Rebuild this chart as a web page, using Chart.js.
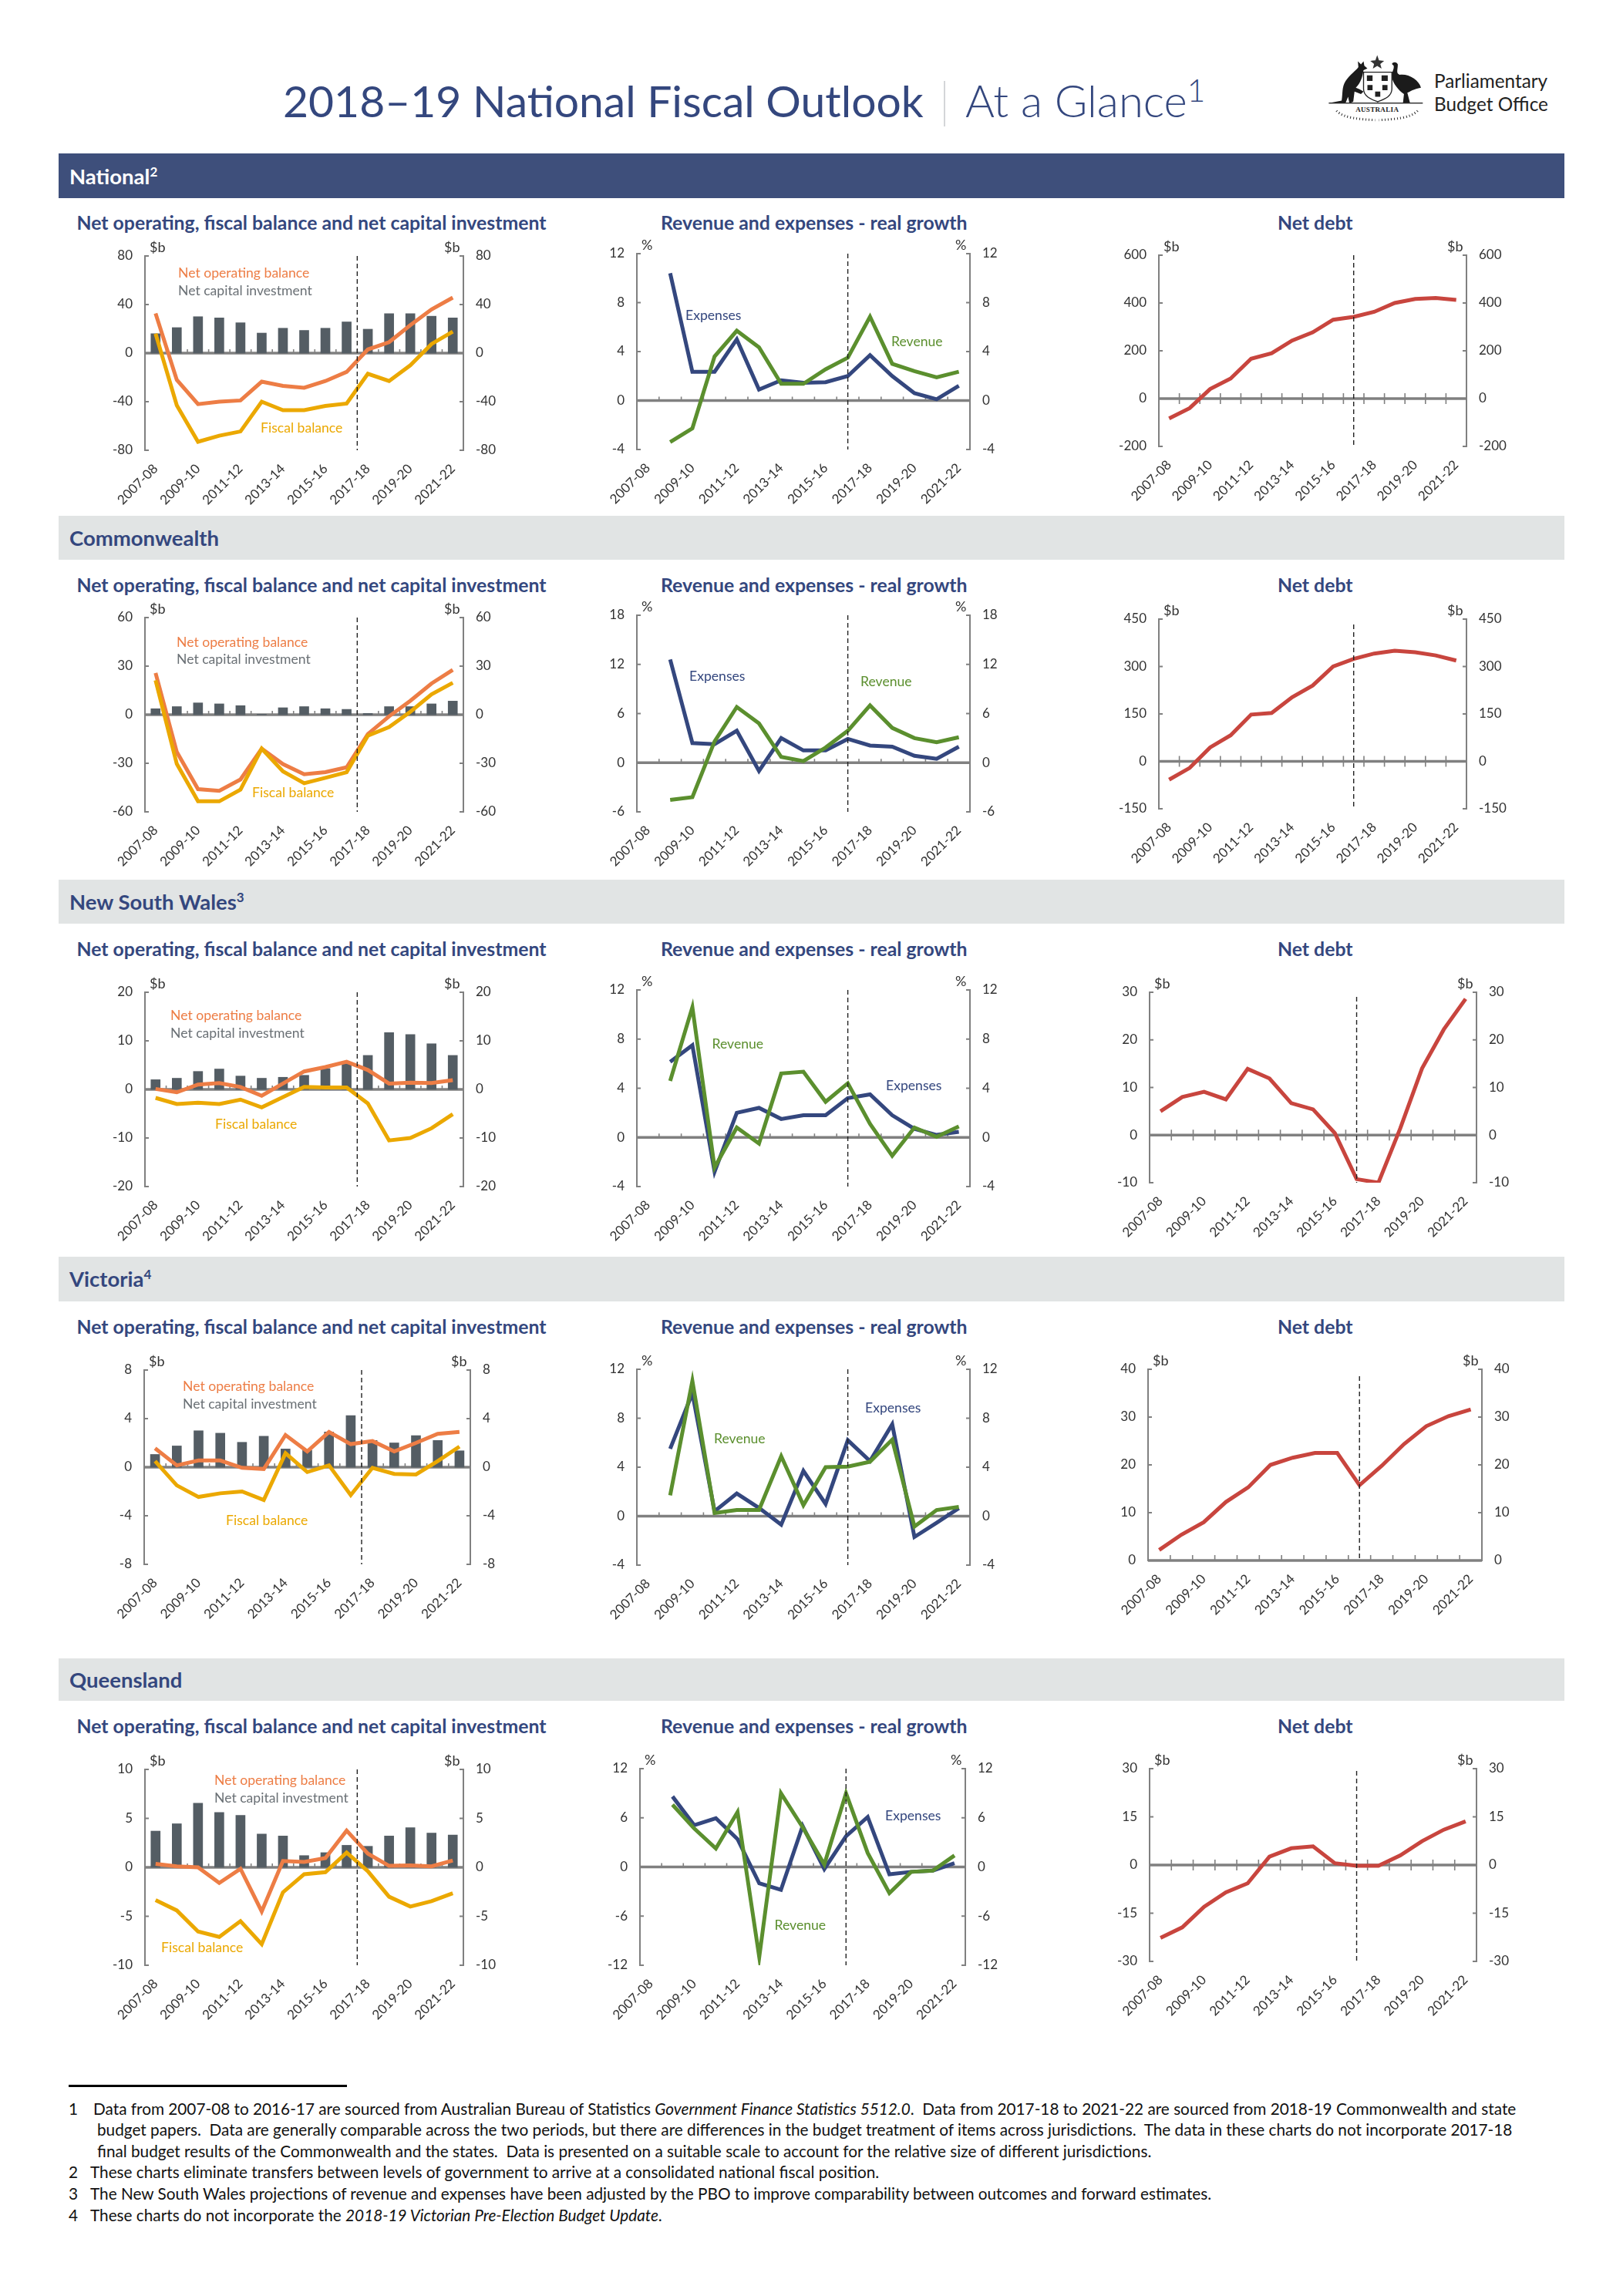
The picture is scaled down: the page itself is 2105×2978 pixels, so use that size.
<!DOCTYPE html>
<html>
<head>
<meta charset="utf-8">
<title>2018-19 National Fiscal Outlook</title>
<script src="https://cdn.jsdelivr.net/npm/chart.js@4/dist/chart.umd.min.js"></script>
<style>
html, body { margin: 0; padding: 0; background: #fff; }
#page { position: relative; width: 2105px; height: 2978px; overflow: hidden; font-family: Lato, sans-serif; color: #34477e; }
#page > div, #page > canvas, #page > svg { position: absolute; }
.t { white-space: nowrap; transform: translateY(-50%); line-height: 1; }
.band { left: 76px; width: 1953px; }
.bandtext { left: 90px; font-size: 27.5px; font-weight: 700; }
.sub { font-size: 24.8px; font-weight: 700; }
.foot { font-size: 20.75px; color: #111; }
sup { font-size: 62%; line-height: 0; }
canvas { display: block; }
</style>
</head>
<body>
<div id="page">
  <div class="t" style="left:367px;top:130px;font-size:57px;">2018–19 National Fiscal Outlook</div>
  <div style="left:1224px;top:105px;width:2px;height:59px;background:#d4d6d8;"></div>
  <div class="t" style="left:1252px;top:130px;font-size:58px;font-weight:300;">At a Glance<sup style="font-size:70%;">1</sup></div>
  <svg style="left:1700px;top:50px;" width="147" height="114" viewBox="0 0 440 340">
    <path fill="#1b1b1b" d="M70 250 L120 240 C125 210 120 190 135 165 C150 140 175 125 185 110 L183 88 L195 100 L205 88 L208 105 L220 115 L205 122 C200 150 195 170 175 190 C190 195 205 205 205 205 L195 215 L170 205 L165 245 L150 250 L145 225 L135 250 Z"/>
    <path fill="#1b1b1b" d="M315 98 C320 88 335 90 338 100 C338 120 330 135 345 140 C380 135 420 160 428 190 C400 195 385 205 375 210 L385 248 L358 250 L362 215 C340 200 320 175 315 150 C312 130 325 120 322 105 Z"/>
    <path fill="#fff" stroke="#222" stroke-width="4" d="M205 130 L315 130 L315 195 C315 225 285 235 260 245 C235 235 205 225 205 195 Z"/>
    <path fill="#222" d="M218 142h22v22h-22z M275 142h24v22h-24z M220 180h20v20h-20z M278 180h20v20h-20z M250 205h20v20h-20z"/>
    <path fill="#333" d="M258 64 L265 84 L285 86 L270 98 L275 116 L258 106 L241 116 L246 98 L231 86 L251 84 Z"/>
    <rect x="70" y="248" width="365" height="4" fill="#222"/>
    <text x="258" y="283" text-anchor="middle" font-family="Liberation Serif" font-weight="700" font-size="27" fill="#222" letter-spacing="1">AUSTRALIA</text>
    <path fill="none" stroke="#333" stroke-width="9" stroke-dasharray="3 9" d="M100 280 C130 310 190 312 250 316 M415 280 C385 310 325 312 265 316"/>
  </svg>
  <div class="t" style="left:1860px;top:105px;font-size:24.3px;color:#222;">Parliamentary</div>
  <div class="t" style="left:1860px;top:135px;font-size:24.3px;color:#222;">Budget Office</div>

  <div class="band" style="top:199px;height:58px;background:#3e4f7b;"></div>
  <div class="t bandtext" style="top:228.5px;color:#fff;">National<sup>2</sup></div>
  <div class="band" style="top:669px;height:57px;background:#e1e4e4;"></div>
  <div class="t bandtext" style="top:698px;">Commonwealth</div>
  <div class="band" style="top:1141px;height:57px;background:#e1e4e4;"></div>
  <div class="t bandtext" style="top:1170px;">New South Wales<sup>3</sup></div>
  <div class="band" style="top:1630px;height:58px;background:#e1e4e4;"></div>
  <div class="t bandtext" style="top:1659px;">Victoria<sup>4</sup></div>
  <div class="band" style="top:2151px;height:55px;background:#e1e4e4;"></div>
  <div class="t bandtext" style="top:2179px;">Queensland</div>

  <div style="left:89px;top:2704px;width:361px;height:2.5px;background:#000;"></div>
  <div class="t foot" style="left:89px;top:2735px;">1</div>
  <div class="t foot" style="left:121px;top:2735px;">Data from 2007-08 to 2016-17 are sourced from Australian Bureau of Statistics <i>Government Finance Statistics 5512.0</i>.&nbsp; Data from 2017-18 to 2021-22 are sourced from 2018-19 Commonwealth and state</div>
  <div class="t foot" style="left:126px;top:2762px;">budget papers.&nbsp; Data are generally comparable across the two periods, but there are differences in the budget treatment of items across jurisdictions.&nbsp; The data in these charts do not incorporate 2017-18</div>
  <div class="t foot" style="left:126px;top:2790px;">final budget results of the Commonwealth and the states.&nbsp; Data is presented on a suitable scale to account for the relative size of different jurisdictions.</div>
  <div class="t foot" style="left:89px;top:2817px;">2</div>
  <div class="t foot" style="left:117px;top:2817px;">These charts eliminate transfers between levels of government to arrive at a consolidated national fiscal position.</div>
  <div class="t foot" style="left:89px;top:2845px;">3</div>
  <div class="t foot" style="left:117px;top:2845px;">The New South Wales projections of revenue and expenses have been adjusted by the PBO to improve comparability between outcomes and forward estimates.</div>
  <div class="t foot" style="left:89px;top:2873px;">4</div>
  <div class="t foot" style="left:117px;top:2873px;">These charts do not incorporate the <i>2018-19 Victorian Pre-Election Budget Update</i>.</div>
</div>
<script>
const years = ['2007-08','2008-09','2009-10','2010-11','2011-12','2012-13','2013-14','2014-15','2015-16','2016-17','2017-18','2018-19','2019-20','2020-21','2021-22'];

// National
const natCapital = [16, 21, 30, 29, 25, 16.5, 20.5, 18.7, 20.5, 25.7, 19.7, 32.5, 32.5, 30.4, 29];
const natOperating = [32.7, -22, -42, -40, -39, -23.5, -27, -28.5, -23, -15.5, 3, 9, 23, 36, 45.7];
const natFiscal = [16, -43, -73, -68, -64.5, -40, -47, -47, -43.5, -41.5, -17, -23, -10, 7.5, 17.7];
const natExpenses = [null, 10.4, 2.35, 2.35, 5, 0.9, 1.65, 1.45, 1.5, 2, 3.7, 2, 0.6, 0.1, 1.2];
const natRevenue = [null, -3.4, -2.27, 3.6, 5.7, 4.35, 1.37, 1.37, 2.55, 3.5, 6.85, 3, 2.4, 1.9, 2.35];
const natDebt = [-83, -40, 40, 84, 167, 190, 243, 277, 330, 342, 363, 400, 417, 421, 413];

// Commonwealth
const cthCapital = [3.7, 5, 7.3, 6.7, 5.6, 0.3, 4.3, 5, 3.7, 3.3, 0.8, 5, 5, 6.7, 8.4];
const cthOperating = [25.8, -23, -46, -47, -40, -21, -30.5, -36.8, -35.5, -32.5, -12, -1, 8.6, 19.3, 27.7];
const cthFiscal = [21.3, -30.4, -53.5, -53.5, -46.3, -21, -35, -42.3, -39, -35.5, -13, -7.6, 1.8, 12.6, 19.7];
const cthExpenses = [null, 12.6, 2.4, 2.26, 3.9, -1, 3, 1.5, 1.5, 2.9, 2.1, 1.95, 0.85, 0.47, 1.95];
const cthRevenue = [null, -4.55, -4.2, 2.6, 6.8, 4.8, 0.7, 0.2, 1.85, 3.9, 7, 4.25, 3, 2.5, 3.1];
const cthDebt = [-58, -21, 44, 82.5, 148, 153, 203, 240, 300, 324, 341, 350, 345, 335, 319];

// New South Wales
const nswCapital = [2, 2.3, 3.7, 4.2, 2.75, 2.3, 2.5, 2.9, 4.3, 5.3, 7, 11.7, 11.3, 9.4, 7];
const nswOperating = [0.1, -0.6, 1, 1.3, 0.5, -1.3, 1.2, 3.7, 4.6, 5.7, 4, 1.2, 1.4, 1.3, 1.9];
const nswFiscal = [-1.75, -3, -2.75, -3, -2.1, -3.7, -1.6, 0.5, 0.4, 0.4, -2.9, -10.5, -10, -8, -5.1];
const nswExpenses = [null, 6.15, 7.5, -2.8, 2, 2.4, 1.5, 1.8, 1.8, 3.2, 3.5, 1.8, 0.7, 0.2, 0.45];
const nswRevenue = [null, 4.6, 10.6, -2.45, 0.8, -0.5, 5.2, 5.35, 2.9, 4.4, 1.1, -1.5, 0.8, 0.05, 0.9];
const nswDebt = [5, 8, 9.1, 7.5, 13.9, 11.9, 6.7, 5.4, 0.4, -9.25, -10, 1.4, 14, 22.2, 28.6];

// Victoria
const vicCapital = [1.05, 1.75, 3, 2.8, 2.05, 2.55, 1.5, 1.4, 2.9, 4.25, 2.2, 2, 2.6, 2.2, 1.35];
const vicOperating = [1.55, 0.15, 0.55, 0.55, -0.05, -0.15, 2.65, 1.3, 2.9, 1.9, 2.15, 1.3, 2, 2.75, 2.9];
const vicFiscal = [0.5, -1.5, -2.45, -2.15, -2, -2.7, 1.15, -0.4, 0.15, -2.3, -0.05, -0.55, -0.6, 0.5, 1.7];
const vicExpenses = [null, 5.5, 10.05, 0.4, 1.85, 0.67, -0.7, 3.7, 1, 6.2, 4.5, 7.5, -1.7, -0.55, 0.65];
const vicRevenue = [null, 1.7, 11.05, 0.25, 0.5, 0.5, 4.9, 0.9, 4, 4.05, 4.45, 6.25, -0.85, 0.5, 0.75];
const vicDebt = [2.2, 5.4, 8, 12.25, 15.3, 20, 21.5, 22.5, 22.5, 15.75, 19.8, 24.35, 28.1, 30.2, 31.6];

// Queensland
const qldCapital = [3.7, 4.45, 6.55, 5.6, 5.3, 3.4, 3.2, 1.2, 1.5, 2.25, 2.15, 3.2, 4.05, 3.5, 3.3];
const qldOperating = [0.35, 0.1, 0, -1.6, -0.15, -4.5, 0.65, 0.55, 0.95, 3.75, 1.4, 0.15, 0.2, 0.1, 0.7];
const qldFiscal = [-3.35, -4.4, -6.55, -7.1, -5.5, -7.85, -2.55, -0.7, -0.5, 1.5, -0.4, -3, -4, -3.45, -2.65];
const qldExpenses = [null, 8.6, 5.1, 5.95, 3.4, -2, -2.8, 5, -0.25, 3.75, 6.1, -0.9, -0.6, -0.45, 0.45];
const qldRevenue = [null, 7.6, 4.7, 2.25, 6.7, -11, 9, 4.85, 0.3, 9, 1.7, -3.2, -0.6, -0.45, 1.4];
const qldDebt = [-22.7, -19.4, -13, -8.5, -5.7, 2.6, 5.2, 5.8, 0.55, -0.25, -0.25, 3, 7.4, 11, 13.6];

const NAVY = '#34477e', GREEN = '#5b8f2e', ORANGE = '#ed7d45', GOLD = '#eba800', RED = '#c8453e', BARS = '#545d64', AXIS = '#808080', GREY = '#6a7075';
const NOB = 'Net operating balance', NCI = 'Net capital investment', FB = 'Fiscal balance';
const SIDE = 70, TOP = 30, BOTTOM = 90;
const page = document.getElementById('page');

// sub headings
const subY = [289, 759, 1230.7, 1720.7, 2239];
subY.forEach(y => {
    [['Net operating, fiscal balance and net capital investment', 99.5],
     ['Revenue and expenses - real growth', 857],
     ['Net debt', 1657]].forEach(([txt, x]) => {
        const d = document.createElement('div');
        d.className = 't sub';
        d.style.left = x + 'px';
        d.style.top = y + 'px';
        d.textContent = txt;
        page.appendChild(d);
    });
});

// axis lines, ticks, forecast divider, unit labels and direct labels
const furniture = {
    id: 'furniture',
    beforeDatasetsDraw(chart) {
        const p = chart.options.plugins.furniture, ctx = chart.ctx, a = chart.chartArea;
        const xs = chart.scales.x, zero = chart.scales.y.getPixelForValue(0);
        ctx.save();
        ctx.strokeStyle = AXIS;
        ctx.lineWidth = 1.6;
        for (let i = 1; i < years.length; i++) {
            const x = xs.getPixelForValue(i - 0.5);
            ctx.beginPath();
            ctx.moveTo(x, zero - p.tickUp);
            ctx.lineTo(x, zero + p.tickDown);
            ctx.stroke();
        }
        ctx.lineWidth = 3.5;
        ctx.beginPath();
        ctx.moveTo(a.left, zero);
        ctx.lineTo(a.right, zero);
        ctx.stroke();
        ctx.lineWidth = 2;
        chart.scales.y.ticks.forEach(t => {
            const y = chart.scales.y.getPixelForValue(t.value);
            ctx.beginPath();
            ctx.moveTo(a.left, y);
            ctx.lineTo(a.left + 5, y);
            ctx.moveTo(a.right, y);
            ctx.lineTo(a.right - 5, y);
            ctx.stroke();
        });
        ctx.restore();
    },
    afterDatasetsDraw(chart) {
        const p = chart.options.plugins.furniture, ctx = chart.ctx, a = chart.chartArea;
        const x = chart.scales.x.getPixelForValue(p.divider);
        ctx.save();
        ctx.strokeStyle = '#222';
        ctx.lineWidth = 1.4;
        ctx.setLineDash([6, 4]);
        ctx.beginPath();
        ctx.moveTo(x, a.top + p.dividerInset);
        ctx.lineTo(x, a.bottom);
        ctx.stroke();
        ctx.setLineDash([]);
        ctx.textBaseline = 'middle';
        ctx.textAlign = 'left';
        ctx.font = '18px Lato';
        ctx.fillStyle = '#333';
        ctx.fillText(p.unit, a.left + 6, a.top - 11);
        ctx.fillText(p.unit, a.right - p.unitRight, a.top - 11);
        ctx.font = '17.6px Lato';
        p.labels.forEach(([txt, color, px, py]) => {
            ctx.fillStyle = color;
            ctx.fillText(txt, px - p.originX, py - p.originY);
        });
        ctx.restore();
    }
};

function makeChart(g, datasets, opts) {
    const canvas = document.createElement('canvas');
    canvas.width = g.right - g.left + SIDE * 2;
    canvas.height = g.bottom - g.top + TOP + BOTTOM;
    canvas.style.left = (g.left - SIDE) + 'px';
    canvas.style.top = (g.top - TOP) + 'px';
    page.appendChild(canvas);
    const font = { family: 'Lato', size: 17 };
    const yAxis = pos => ({
        position: pos, min: opts.min, max: opts.max,
        grid: { display: false },
        border: { color: AXIS, width: 2 },
        ticks: { stepSize: opts.step, font: font, color: '#333', padding: 8 },
        afterFit(s) { s.width = SIDE; }
    });
    return new Chart(canvas, {
        type: 'bar',
        data: { labels: years, datasets: datasets },
        plugins: [furniture],
        options: {
            responsive: false,
            animation: false,
            devicePixelRatio: 1,
            layout: { padding: { top: TOP, left: 0, right: 0, bottom: 0 } },
            scales: {
                x: {
                    grid: { display: false },
                    border: { display: false },
                    ticks: {
                        autoSkip: false, minRotation: 45, maxRotation: 45, font: font, color: '#333', padding: 6,
                        callback(v, i) { return i % 2 ? '' : years[i]; }
                    },
                    afterFit(s) { s.height = BOTTOM; }
                },
                y: yAxis('left'),
                y2: yAxis('right')
            },
            plugins: {
                legend: { display: false },
                tooltip: { enabled: false },
                furniture: {
                    unit: opts.unit, unitRight: opts.unit === '%' ? 19 : 25,
                    divider: opts.divider, dividerInset: opts.inset || 0,
                    tickUp: opts.tickUp, tickDown: opts.tickDown,
                    labels: opts.labels,
                    originX: g.left - SIDE, originY: g.top - TOP
                }
            }
        }
    });
}

function line(values, color, order) {
    return { type: 'line', data: values, borderColor: color, borderWidth: 5, pointRadius: 0, tension: 0, order: order };
}

function balance(g, capital, operating, fiscal, min, max, step, labels) {
    makeChart(g, [
        { type: 'bar', data: capital, backgroundColor: BARS, barThickness: 12, order: 3 },
        line(operating, ORANGE, 2),
        line(fiscal, GOLD, 1)
    ], { min, max, step, unit: '$b', divider: 9.5, tickUp: 5, tickDown: 0, labels });
}

function growth(g, expenses, revenue, min, max, step, labels) {
    makeChart(g, [line(expenses, NAVY, 2), line(revenue, GREEN, 1)],
        { min, max, step, unit: '%', divider: 9, tickUp: 5, tickDown: 0, labels });
}

function debt(g, values, min, max, step, inset, tickDown) {
    makeChart(g, [line(values, RED, 1)],
        { min, max, step, unit: '$b', divider: 9, inset, tickUp: 7, tickDown, labels: [] });
}

balance({ left: 188, right: 601, top: 332, bottom: 584 }, natCapital, natOperating, natFiscal, -80, 80, 40,
    [[NOB, ORANGE, 231, 354], [NCI, GREY, 231, 377], [FB, GOLD, 338, 555]]);
growth({ left: 826, right: 1258, top: 329, bottom: 583 }, natExpenses, natRevenue, -4, 12, 4,
    [['Expenses', NAVY, 889, 409], ['Revenue', GREEN, 1156, 443]]);
debt({ left: 1503, right: 1902, top: 331, bottom: 579 }, natDebt, -200, 600, 200, 0, 7);

balance({ left: 188, right: 601, top: 801, bottom: 1053 }, cthCapital, cthOperating, cthFiscal, -60, 60, 30,
    [[NOB, ORANGE, 229, 833], [NCI, GREY, 229, 855], [FB, GOLD, 327, 1028]]);
growth({ left: 826, right: 1258, top: 798, bottom: 1053 }, cthExpenses, cthRevenue, -6, 18, 6,
    [['Expenses', NAVY, 894, 877], ['Revenue', GREEN, 1116, 884]]);
debt({ left: 1503, right: 1902, top: 803, bottom: 1049 }, cthDebt, -150, 450, 150, 7, 7);

balance({ left: 188, right: 601, top: 1287, bottom: 1539 }, nswCapital, nswOperating, nswFiscal, -20, 20, 10,
    [[NOB, ORANGE, 221, 1317], [NCI, GREY, 221, 1340], [FB, GOLD, 279, 1458]]);
growth({ left: 826, right: 1258, top: 1284, bottom: 1539 }, nswExpenses, nswRevenue, -4, 12, 4,
    [['Revenue', GREEN, 923.5, 1354], ['Expenses', NAVY, 1149, 1408]]);
debt({ left: 1491, right: 1915, top: 1287, bottom: 1534 }, nswDebt, -10, 30, 10, 6, 7);

balance({ left: 187, right: 610, top: 1777, bottom: 2029 }, vicCapital, vicOperating, vicFiscal, -8, 8, 4,
    [[NOB, ORANGE, 237, 1798], [NCI, GREY, 237, 1821], [FB, GOLD, 293, 1972]]);
growth({ left: 826, right: 1258, top: 1776, bottom: 2030 }, vicExpenses, vicRevenue, -4, 12, 4,
    [['Revenue', GREEN, 926, 1866], ['Expenses', NAVY, 1122, 1826]]);
debt({ left: 1489, right: 1922, top: 1776, bottom: 2024 }, vicDebt, 0, 40, 10, 9, 0);

balance({ left: 188, right: 601, top: 2295, bottom: 2549 }, qldCapital, qldOperating, qldFiscal, -10, 10, 5,
    [[NOB, ORANGE, 278, 2309], [NCI, GREY, 278, 2332], [FB, GOLD, 209, 2526]]);
growth({ left: 830, right: 1252, top: 2294, bottom: 2549 }, qldExpenses, qldRevenue, -12, 12, 6,
    [['Revenue', GREEN, 1004.5, 2497], ['Expenses', NAVY, 1148, 2355]]);
debt({ left: 1491, right: 1915, top: 2294, bottom: 2544 }, qldDebt, -30, 30, 15, 3, 7);
</script>
</body>
</html>
